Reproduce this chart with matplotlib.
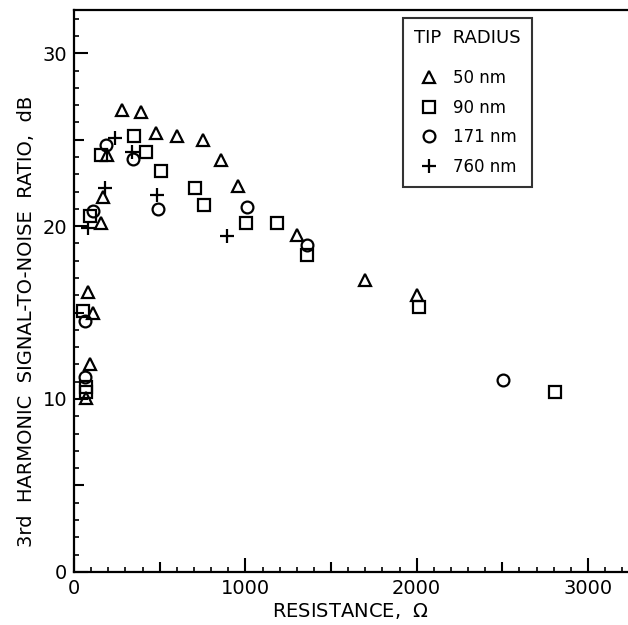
import matplotlib
matplotlib.use('Agg')
import matplotlib.pyplot as plt
from matplotlib.ticker import MultipleLocator, FuncFormatter
import numpy as np

# resistance (ohm) and 3rd harmonic S/N (dB) per tip radius
r50 = [84, 109, 93, 70, 158, 171, 191, 282, 391, 477, 603, 751, 856, 959, 1300, 1700, 2000]
s50 = [16.2, 15.0, 12.0, 10.05, 20.2, 21.7, 24.1, 26.7, 26.6, 25.4, 25.2, 25.0, 23.8, 22.3, 19.5, 16.9, 16.0]

r90 = [51, 70, 72, 93, 156, 352, 420, 508, 705, 759, 1004, 1183, 1362, 2014, 2808]
s90 = [15.1, 10.7, 10.4, 20.6, 24.1, 25.2, 24.3, 23.2, 22.2, 21.2, 20.2, 20.2, 18.3, 15.3, 10.4]

r171 = [64, 64, 113, 185, 346, 492, 1008, 1358, 2506]
s171 = [14.5, 11.3, 20.9, 24.7, 23.9, 21.0, 21.1, 18.9, 11.1]

r760 = [84, 181, 239, 337, 486, 891]
s760 = [19.9, 22.2, 25.1, 24.3, 21.8, 19.4]

labels = ['50 nm', '90 nm', '171 nm', '760 nm']

fig = plt.figure(figsize=(6.28, 6.25), dpi=100)
ax = fig.add_axes([0.118, 0.085, 0.881, 0.899])

mk = dict(linestyle='none', color='black', markerfacecolor='none', markeredgewidth=1.6)
ax.plot(r50, s50, marker='^', markersize=9, label=labels[0], **mk)
ax.plot(r90, s90, marker='s', markersize=8, label=labels[1], **mk)
ax.plot(r171, s171, marker='o', markersize=8.5, label=labels[2], **mk)
ax.plot(r760, s760, marker='+', markersize=10, label=labels[3], **mk)

ax.set_xlim(0, 3230)
ax.set_ylim(0, 32.5)
# majors every 500 / 5, only labelled at 1000 / 10
ax.xaxis.set_major_locator(MultipleLocator(500))
ax.xaxis.set_minor_locator(MultipleLocator(100))
ax.yaxis.set_major_locator(MultipleLocator(5))
ax.yaxis.set_minor_locator(MultipleLocator(1))
ax.xaxis.set_major_formatter(FuncFormatter(lambda v, p: '%d' % v if round(v) % 1000 == 0 else ''))
ax.yaxis.set_major_formatter(FuncFormatter(lambda v, p: '%d' % v if round(v) % 10 == 0 else ''))
ax.tick_params(which='major', direction='in', length=10, width=1.5, labelsize=14, pad=5)
ax.tick_params(which='minor', direction='in', length=3.5, width=1.2)
ax.tick_params(top=False, right=False)
for s in ['left', 'bottom', 'top']:
    ax.spines[s].set_linewidth(1.6)
ax.spines['right'].set_visible(False)

ax.set_xlabel('RESISTANCE,  $\\Omega$', fontsize=14, labelpad=2)
ax.set_ylabel('3rd  HARMONIC  SIGNAL-TO-NOISE  RATIO,  dB', fontsize=14)
ax.yaxis.set_label_coords(-0.068, 0.445)

leg = ax.legend(title='TIP  RADIUS', loc='upper left', bbox_to_anchor=(0.595, 0.986),
                fancybox=False, edgecolor='black', fontsize=12, title_fontsize=13,
                handletextpad=0.8, labelspacing=0.7, borderpad=0.65, handlelength=1.3,
                borderaxespad=0)
leg.get_frame().set_linewidth(1.5)
leg._legend_box.sep = 16

fig.canvas.draw()
for t, v in zip(ax.xaxis.get_major_ticks(), ax.xaxis.get_majorticklocs()):
    t.tick1line.set_markersize(10 if round(v) % 1000 == 0 else 7)
for t, v in zip(ax.yaxis.get_major_ticks(), ax.yaxis.get_majorticklocs()):
    t.tick1line.set_markersize(10 if round(v) % 10 == 0 else 7)

fig.savefig('out.png', dpi=100)
